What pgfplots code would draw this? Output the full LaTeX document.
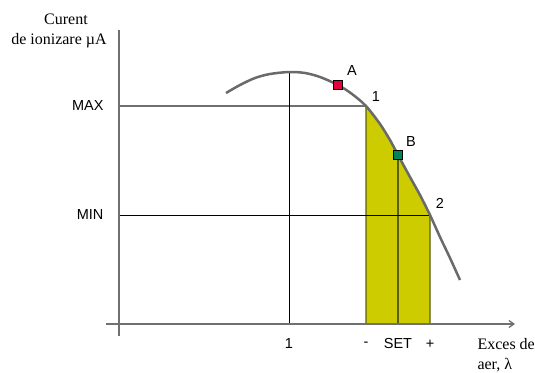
\documentclass[border=0pt]{standalone}
\usepackage{pgfplots}
\pgfplotsset{compat=1.18}
\usepackage{fontspec}
\setmainfont{Liberation Serif}
\setsansfont{Liberation Sans}
\usetikzlibrary{arrows.meta}
\definecolor{axgray}{HTML}{707070}
\definecolor{curvegray}{HTML}{6A6A6A}
\definecolor{fillyel}{HTML}{CCCC00}
\definecolor{olive}{HTML}{5E5E10}
\definecolor{mred}{HTML}{E4003C}
\definecolor{mgreen}{HTML}{00845A}

% curve in pixel coordinates (y measured downwards)
\pgfplotstableread{
x y
226 93
240 85
255 78
270 74
289 72
305 73
320 77
338 85
352 94
366 106
380 124
390 140
398 155
410 177
420 195
430 215
440 237
450 258
460 280
}\curve

\pgfplotstableread{
x y
366 324
366 106
380 124
390 140
398 155
410 177
420 195
430 215
430 324
}\band

\tikzset{
  sf/.style={font=\sffamily\fontsize{14.5}{17}\selectfont},
  rm/.style={font=\rmfamily\fontsize{16}{19}\selectfont},
}

\begin{document}
\begin{tikzpicture}
\begin{axis}[
  hide axis, scale only axis,
  width=535pt, height=372pt,
  xmin=0, xmax=535, ymin=0, ymax=372,
  y dir=reverse, clip=false,
]
% shaded band
\addplot[fill=fillyel, draw=olive, line width=1.3pt] table {\band} -- cycle;
\addplot[olive, line width=1.3pt] coordinates {(398,155) (398,324)};
% guide lines
\addplot[axgray, line width=2pt] coordinates {(119,106) (366,106)};
\addplot[black, line width=1pt] coordinates {(119,215) (430,215)};
\addplot[black, line width=1pt] coordinates {(289,72) (289,324)};
% axes
\addplot[axgray, line width=2pt] coordinates {(119,30) (119,336)};
\addplot[axgray, line width=1.3pt, -{Straight Barb[length=5pt,width=7pt]}] coordinates {(106,324) (515,324)};
% curve
\addplot[curvegray, line width=2.5pt, smooth] table {\curve};
% markers
\addplot[only marks, mark=square*, mark size=4.5pt, mark options={fill=mred, draw=black, line width=0.6pt}] coordinates {(338,85)};
\addplot[only marks, mark=square*, mark size=4.5pt, mark options={fill=mgreen, draw=black, line width=0.6pt}] coordinates {(398,155)};
% labels
\node[sf] at (axis cs:352,71) {A};
\node[sf] at (axis cs:376,97) {1};
\node[sf] at (axis cs:411,142) {B};
\node[sf] at (axis cs:440,203) {2};
\node[sf, anchor=east] at (axis cs:107,106) {MAX};
\node[sf, anchor=east] at (axis cs:107,215) {MIN};
\node[sf] at (axis cs:289,344) {1};
\node[sf] at (axis cs:366,344) {-};
\node[sf] at (axis cs:398,344) {SET};
\node[sf] at (axis cs:430,344) {+};
\node[rm, anchor=west] at (axis cs:474,344) {Exces de};
\node[rm, anchor=west] at (axis cs:474,365) {aer, λ};
\node[rm] at (axis cs:66,19) {Curent};
\node[rm] at (axis cs:59,41) {de ionizare µA};
\end{axis}
\pgfresetboundingbox
\useasboundingbox (current axis.south west) rectangle (current axis.north east);
\end{tikzpicture}
\end{document}
